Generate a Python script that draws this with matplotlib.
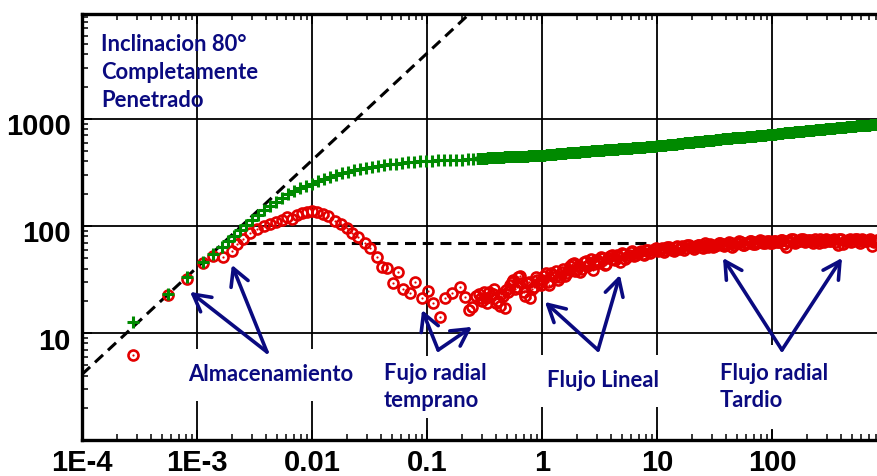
import matplotlib
matplotlib.use("Agg")
import matplotlib.pyplot as plt
import matplotlib.transforms as mtransforms
from matplotlib.ticker import LogLocator, NullFormatter, FixedLocator, FixedFormatter
import numpy as np

# ---------------- data ----------------
t_green_early = [0.00028, 0.00056, 0.00082, 0.00113, 0.00138, 0.00165, 0.00186, 0.0021, 0.00237, 0.00267,
                 0.0030, 0.0034, 0.0038, 0.0043, 0.0049, 0.0055, 0.0062, 0.0070, 0.0079, 0.0089,
                 0.0100, 0.0113, 0.0127, 0.0144, 0.0162, 0.0182, 0.0206, 0.0232, 0.0261, 0.0295,
                 0.0333, 0.0375, 0.0423, 0.0477, 0.0537, 0.0607, 0.0684, 0.0771, 0.0869, 0.098,
                 0.110, 0.125, 0.141, 0.158, 0.179, 0.201, 0.227, 0.251]
green_early = [12.7, 23, 33, 46, 55, 64, 72, 81, 92, 102,
               114, 127, 141, 154, 168, 183, 199, 212, 226, 236,
               247, 264, 275, 287, 300, 313, 320, 334, 341, 348,
               356, 364, 371, 378, 383, 388, 392, 396, 400, 403,
               406, 409, 411, 413, 415, 417, 419, 421]

t_red_early = [0.000277, 0.00056, 0.00082, 0.00113, 0.00138, 0.00168, 0.0020, 0.00224, 0.0025, 0.0029,
               0.0033, 0.0038, 0.0043, 0.0049, 0.0055, 0.0061, 0.0067, 0.0074, 0.0082, 0.0090,
               0.0100, 0.0111, 0.0124, 0.0138, 0.0158, 0.0178, 0.0201, 0.0222, 0.0250, 0.0288,
               0.0317, 0.0366, 0.0405, 0.0447, 0.0505, 0.0557, 0.0616, 0.0709, 0.0783, 0.0904,
               0.102, 0.113, 0.130, 0.143, 0.165, 0.193, 0.214, 0.232, 0.245, 0.265]
red_early = [6.2, 22.6, 32, 45, 52, 51, 58, 68, 75, 86,
             93, 99, 104, 108, 113, 121, 117, 127, 131, 134,
             137, 135, 129, 124, 112, 104, 96, 86, 79, 69,
             62, 51, 41, 40.5, 29, 37, 26, 23.6, 30, 21,
             24.7, 19, 14.1, 21, 23.6, 26.9, 21.7, 16.4, 17.6, 22]

t_late = [0.282, 0.302, 0.324, 0.347, 0.372, 0.398, 0.427, 0.457, 0.490, 0.525, 0.562, 0.603, 0.646,
          0.692, 0.741, 0.794, 0.851, 0.912, 0.977,
          1.05, 1.12, 1.20, 1.29, 1.38, 1.48, 1.58, 1.70, 1.82, 1.95, 2.09, 2.24, 2.40, 2.57, 2.75,
          2.95, 3.16, 3.39, 3.63, 3.89, 4.17, 4.47, 4.79, 5.13, 5.50, 5.89, 6.31, 6.76, 7.24, 7.76,
          8.32, 8.91, 9.55,
          10.2, 11.0, 11.7, 12.6, 13.5, 14.5, 15.5, 16.6, 17.8, 19.1, 20.4, 21.9, 23.4, 25.1, 26.9,
          28.8, 30.9, 33.1, 35.5, 38.0, 40.7, 43.7, 46.8, 50.1, 53.7, 57.5, 61.7, 66.1, 70.8, 75.9,
          81.3, 87.1, 93.3,
          100, 107, 115, 123, 132, 141, 151, 162, 174, 186, 200, 214, 229, 245, 263, 282, 302, 324,
          347, 372, 398, 427, 457, 490, 525, 562, 603, 646, 692, 741, 794, 851]
green_late = [423, 425, 426, 428, 430, 431, 433, 434, 436, 437, 439, 440, 442, 444, 445, 447, 448, 450, 451,
              454, 457, 460, 463, 466, 469, 472, 475, 478, 481, 484, 487, 490, 493, 496, 499, 502, 505,
              507, 510, 513, 516, 519, 522, 525, 528, 531, 534, 537, 540, 543, 546, 549,
              553, 557, 562, 567, 571, 576, 581, 585, 590, 595, 600, 604, 609, 614, 618, 623, 628, 632,
              637, 642, 647, 651, 656, 661, 665, 670, 675, 679, 684, 689, 693, 698, 703,
              708, 714, 719, 725, 731, 736, 742, 748, 753, 759, 765, 771, 776, 782, 788, 793, 799, 805,
              810, 816, 822, 828, 833, 839, 845, 850, 856, 862, 867, 873, 879, 885]
red_late = [23, 20, 21, 24, 23, 19, 18, 22, 25, 28, 31, 27, 34, 24, 29, 21, 27, 31, 28,
            34, 30, 36, 33, 31, 37, 34, 39, 44, 38, 42, 40, 47, 43, 39, 48, 45, 50, 44, 52, 49, 53, 46,
            55, 51, 57, 52, 56, 58, 54, 59, 57, 61,
            58, 62, 59, 63, 60, 64, 61, 65, 62, 66, 63, 65, 67, 62, 66, 68, 64, 67, 69, 65, 68, 70, 66,
            69, 71, 67, 70, 72, 68, 71, 73, 69, 72,
            70, 73, 71, 74, 64, 72, 75, 71, 73, 76, 72, 74, 70, 73, 75, 71, 74, 72, 75, 66, 76, 72, 74,
            71, 75, 73, 76, 72, 74, 65, 73, 74]

# extra derivative samples between the late-time points (the red band is very dense)
t_red_extra = [0.292, 0.313, 0.335, 0.359, 0.385, 0.412, 0.442, 0.473, 0.507, 0.543, 0.582, 0.624,
               0.668, 0.716, 0.767, 0.822, 0.881, 0.944,
               1.01, 1.08, 1.16, 1.24, 1.33, 1.43, 1.53, 1.64, 1.76, 1.88, 2.02, 2.16, 2.32, 2.48,
               2.66, 2.85, 3.05, 3.27, 3.51, 3.76, 4.03, 4.32, 4.62, 4.95, 5.31, 5.69, 6.10, 6.53,
               7.00, 7.50, 8.04, 8.61, 9.23, 9.89,
               10.6, 11.4, 12.2, 13.0, 14.0, 15.0, 16.0, 17.2, 18.4, 19.7, 21.1, 22.6, 24.3, 26.0,
               27.9, 29.9, 32.0, 34.3, 36.7, 39.4, 42.2, 45.2, 48.4, 51.9, 55.6, 59.6, 63.8, 68.4,
               73.3, 78.5, 84.1, 90.2, 96.6,
               104, 111, 119, 127, 136, 146, 157, 168, 180, 193, 207, 221, 237, 254, 272, 292, 313,
               335, 359, 385, 412, 442, 473, 507, 543, 582, 624, 668, 716, 767, 822]
red_extra = [21, 24, 19, 22, 26, 20, 23, 17, 24, 30, 26, 33, 29, 22, 30, 26, 33, 29,
             31, 36, 28, 35, 38, 33, 40, 36, 42, 45, 40, 37, 46, 42, 49, 44, 47, 51, 43, 50,
             54, 48, 52, 56, 49, 54, 58, 53, 57, 55, 60, 56, 59, 62,
             60, 57, 63, 61, 58, 65, 62, 60, 66, 63, 61, 67, 64, 69, 63, 67, 65, 70, 66, 68,
             71, 64, 69, 72, 67, 70, 73, 68, 71, 74, 69, 72, 70,
             73, 71, 74, 68, 72, 75, 70, 73, 76, 71, 74, 72, 75, 69, 73, 76, 72, 74, 71, 75,
             68, 73, 76, 72, 75, 70, 74, 73, 76, 71, 74]

# reference lines
unit_slope_coef = 41000.0
unit_slope_t = [1e-4, 0.3]
radial_level = 70.0
radial_t = [0.0026, 9.0]

xtick_vals = [1e-4, 1e-3, 1e-2, 1e-1, 1, 10, 100]
xtick_labels = ["1E-4", "1E-3", "0.01", "0.1", "1", "10", "100"]
ytick_vals = [10, 100, 1000]
ytick_labels = ["10", "100", "1000"]

# ---------------- figure ----------------
navy = "#0a0a80"
red = "#e30000"
green = "#008a00"

fig = plt.figure(figsize=(8.77, 4.76), dpi=100)
ax = fig.add_axes([82/877, 36/476, 795/877, 426/476])
ax.set_xscale("log")
ax.set_yscale("log")
ax.set_xlim(1e-4, 10**2.913)
ax.set_ylim(1, 10**3.98)

t_red = np.array(t_red_early + t_late + t_red_extra)
p_red = np.array(red_early + red_late + red_extra)

# dashed guide lines
ut = np.array(unit_slope_t)
ax.plot(ut, unit_slope_coef * ut, ls=(0, (3.6, 2.2)), color="black", lw=2.2, zorder=2)
ax.plot(radial_t, [radial_level, radial_level], ls=(0, (3.6, 2.2)), color="black", lw=2.2, zorder=2)

# data
ax.plot(t_red, p_red, ls="none", marker="o", ms=7.2, mfc="none", mec=red, mew=1.9, zorder=3)
ax.plot(t_red, p_red, ls="none", marker="o", ms=1.6, mfc=red, mec=red, mew=0, zorder=3)
ax.plot(t_green_early, green_early, ls="none", marker="+", ms=8, mec=green, mew=2.2, zorder=3.5)
ax.plot(t_late, green_late, ls="none", marker="+", ms=8, mec=green, mew=3.2, zorder=3.5)

# grid and ticks
ax.xaxis.set_major_locator(FixedLocator(xtick_vals))
ax.xaxis.set_major_formatter(FixedFormatter(xtick_labels))
ax.yaxis.set_major_locator(FixedLocator(ytick_vals))
ax.yaxis.set_major_formatter(FixedFormatter(ytick_labels))
ax.xaxis.set_minor_locator(LogLocator(base=10, subs=np.arange(2, 10), numticks=20))
ax.yaxis.set_minor_locator(LogLocator(base=10, subs=np.arange(2, 10), numticks=20))
ax.xaxis.set_minor_formatter(NullFormatter())
ax.yaxis.set_minor_formatter(NullFormatter())
ax.grid(True, which="major", color="black", lw=1.3)
ax.set_axisbelow(True)

ax.tick_params(which="both", direction="in", top=True, right=False)
ax.tick_params(which="major", length=7, width=1.3)
ax.tick_params(which="minor", length=4, width=1.1)
ax.tick_params(axis="x", which="major", pad=6.5)
ax.tick_params(axis="y", which="major", pad=8)
for lab in ax.get_xticklabels() + ax.get_yticklabels():
    lab.set_fontfamily(["Liberation Sans", "DejaVu Sans"])
    lab.set_fontweight("bold")
    lab.set_fontsize(21)
ydown = mtransforms.ScaledTranslation(0, -4 / 72, fig.dpi_scale_trans)
for tk in ax.yaxis.get_major_ticks():
    tk.label1.set_transform(tk.label1.get_transform() + ydown)

for side in ["left", "top", "bottom"]:
    ax.spines[side].set_linewidth(2.4)
ax.spines["right"].set_visible(False)

# annotations
fs = 15.8
font = dict(family=["Lato", "DejaVu Sans"], weight="bold", color=navy)
ax.text(0.024, 0.952, "Inclinacion 80°\nCompletamente\nPenetrado", transform=ax.transAxes,
        ha="left", va="top", fontsize=fs, linespacing=1.4, zorder=5, **font)

ax.text(4.4e-3, 4.05, "Almacenamiento", ha="center", va="center", fontsize=fs,
        bbox=dict(boxstyle="square,pad=0.7", facecolor="white", edgecolor="none"), zorder=4, **font)
ax.text(0.1175, 3.13, "Fujo radial\ntemprano", ha="center", va="center", fontsize=fs,
        multialignment="left", linespacing=1.35,
        bbox=dict(boxstyle="square,pad=0.3", facecolor="white", edgecolor="none"), zorder=4, **font)
ax.text(3.39, 3.56, "Flujo Lineal", ha="center", va="center", fontsize=fs,
        bbox=dict(boxstyle="square,pad=0.7", facecolor="white", edgecolor="none"), zorder=4, **font)
ax.text(35.3, 3.13, "Flujo radial\nTardio", ha="left", va="center", fontsize=fs,
        multialignment="left", linespacing=1.4,
        bbox=dict(boxstyle="square,pad=0.8", facecolor="white", edgecolor="none"), zorder=4, **font)

arrow_kw = dict(arrowstyle="->,head_length=0.55,head_width=0.3", color=navy, lw=2.6,
                shrinkA=0, shrinkB=0, mutation_scale=22)
arrows = [
    ((4.06e-3, 6.64), (8.7e-4, 24.2)),
    ((4.06e-3, 6.64), (2.01e-3, 43.3)),
    ((0.125, 6.93), (0.0906, 16.4)),
    ((0.125, 6.93), (0.246, 11.4)),
    ((3.07, 6.93), (1.06, 19.5)),
    ((3.07, 6.93), (4.76, 34.8)),
    ((122, 6.93), (37.5, 50.2)),
    ((122, 6.93), (406, 50.2)),
]
for start, tip in arrows:
    ax.annotate("", xy=tip, xytext=start, arrowprops=arrow_kw, zorder=6)

fig.savefig("out.png", dpi=100, facecolor="white")
